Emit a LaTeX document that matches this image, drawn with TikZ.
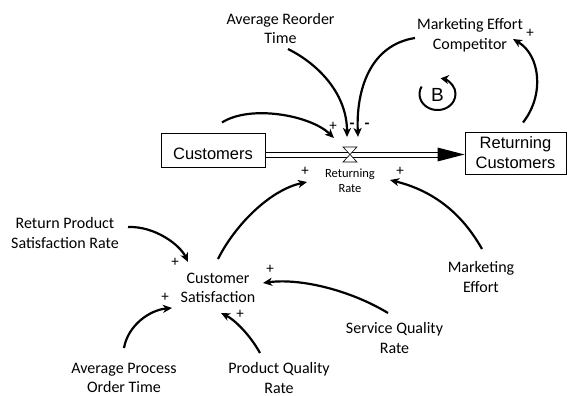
\documentclass[tikz,border=0pt]{standalone}
\usepackage{fontspec}
\setmainfont{Carlito}
\newfontfamily\arialfont{Liberation Sans}
\usetikzlibrary{arrows.meta,calc}
\begin{document}
\begin{tikzpicture}[x=1pt,y=-1pt,
  var/.style={font=\fontsize{16}{19.5}\selectfont, align=center, inner sep=0pt},
  stock/.style={draw, line width=1pt, font=\arialfont\fontsize{16.5}{20}\selectfont, align=center, inner sep=0pt},
  link/.style={line width=2.2pt, -{Stealth[length=9pt,width=8pt,inset=2.5pt]}},
  sign/.style={font=\fontsize{15}{15}\selectfont, inner sep=0pt},
  msign/.style={font=\bfseries\fontsize{16}{16}\selectfont, inner sep=0pt},
  pipe/.style={double, double distance=4pt, line width=1pt},
  valvestyle/.style={draw, fill=white, line width=0.6pt},
  loopstyle/.style={line width=2pt, -{Stealth[length=8pt,width=9pt,inset=2.5pt]}}
]
\useasboundingbox (0,0) rectangle (568,396);

% stocks
\node[stock, minimum width=104pt, minimum height=34pt, text height=19pt, text depth=0pt] (cust) at (213,150) {Customers};
\node[stock, minimum width=101pt, minimum height=42pt] (retc) at (515.5,153) {Returning\\Customers};

% flow
\coordinate (valve) at (350,154.5);
\draw[pipe] (cust.east |- valve) -- ($(retc.west |- valve)+(-26,0)$);
\fill (retc.west |- valve) -- +(-27,-7) -- +(-27,7) -- cycle;
\draw[valvestyle] ($(valve)+(-7,-7.5)$) -- ($(valve)+(7,-7.5)$) -- ($(valve)+(-7,7.5)$) -- ($(valve)+(7,7.5)$) -- cycle;
\node[var, font=\fontsize{12.5}{15}\selectfont] (rr) at (350,180.5) {Returning\\Rate};

% variables
\node[var] (art) at (280.5,28.5) {Average Reorder\\Time};
\node[var] (mec) at (470,35) {Marketing Effort\\Competitor};
\node[var] (cs) at (218,288) {Customer\\Satisfaction};
\node[var] (rpsr) at (65,233) {Return Product\\Satisfaction Rate};
\node[var] (apot) at (124,378) {Average Process\\Order Time};
\node[var] (pqr) at (279,378) {Product Quality\\Rate};
\node[var] (sqr) at (394.5,338) {Service Quality\\Rate};
\node[var] (me) at (481,277) {Marketing\\Effort};

% loop marker
\node[font=\arialfont\fontsize{19}{19}\selectfont, inner sep=0pt] (bl) at (437.5,95) {B};
\draw[loopstyle] ($(bl)+(-152:18)$) arc[start angle=-152, end angle=-440, x radius=18, y radius=16];

% links
\draw[link] ($(cust.north)+(9,-10)$) .. controls +(28,-18) and +(-24,-23) .. ($(valve)+(-16,-16.5)$);
\draw[link] ($(art)+(7.5,20.5)$) .. controls +(32,16) and +(0,-42) .. ($(valve)+(-3,-17.5)$);
\draw[link] ($(mec)+(-55,3)$) .. controls +(-45,7) and +(-2,-47) .. ($(valve)+(8,-17.5)$);
\draw[link] ($(retc.north)+(7.5,-9)$) .. controls +(22,-28) and +(27,16) .. ($(mec)+(43,4)$);
\draw[link] ($(cs)+(0,-29)$) .. controls +(17,-34) and +(-37,8) .. ($(rr)+(-43,1.5)$);
\draw[link] ($(me)+(1,-28)$) .. controls +(-22,-39) and +(40,10) .. ($(rr)+(40,-0.5)$);
\draw[link] ($(rpsr)+(63,-6)$) .. controls +(27,-1) and +(-8,-17) .. ($(cs)+(-30,-26)$);
\draw[link] ($(apot)+(0,-30)$) .. controls +(4,-23) and +(-22,2) .. ($(cs)+(-46,20)$);
\draw[link] ($(pqr)+(-19,-25)$) .. controls +(-10,-18) and +(14,7) .. ($(cs)+(3,25)$);
\draw[link] ($(sqr)+(-6.5,-25)$) .. controls +(-38,-23) and +(37,-5) .. ($(cs)+(45,-5)$);

% polarity signs
\node[sign] (p1) at (333,126) {+};
\node[msign] (m1) at (352,126) {-};
\node[msign] (m2) at (367,126) {-};
\node[sign] (p2) at (530,33) {+};
\node[sign] (p3) at (305,171) {+};
\node[sign] (p4) at (400,171) {+};
\node[sign] (p5) at (175,262) {+};
\node[sign] (p6) at (165,297) {+};
\node[sign] (p7) at (240,314) {+};
\node[sign] (p8) at (270,269) {+};
\end{tikzpicture}
\end{document}
